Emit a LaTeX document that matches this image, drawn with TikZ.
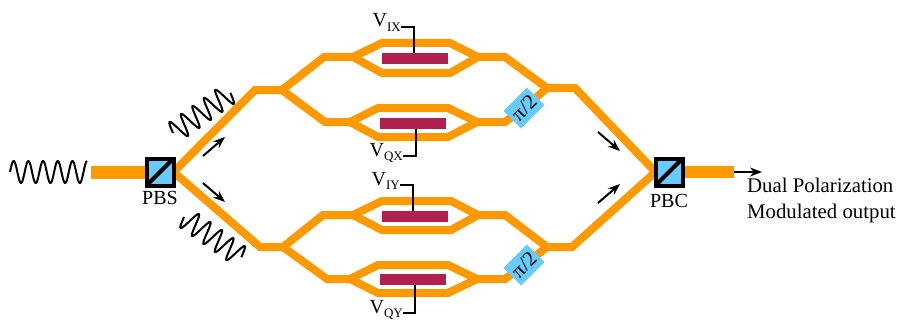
\documentclass[tikz,border=0pt]{standalone}
\usepackage{fontspec}
\setmainfont{Liberation Serif}
\usetikzlibrary{arrows.meta}
\usetikzlibrary{backgrounds}
\definecolor{morange}{rgb}{1.0, 0.6, 0.0}
\definecolor{mblue}{rgb}{0.4, 0.8, 1.0}
\definecolor{mred}{rgb}{0.69, 0.13, 0.31}
\tikzset{guide/.style = {draw=morange, line width=8pt}}
\tikzset{cube/.style = {draw, fill=mblue, line width=4pt, minimum size=27pt, inner sep=0pt, outer sep=0pt}}
\tikzset{diagonal/.style = {line width=4pt}}
\tikzset{electrode/.style = {fill=mred, minimum width=66pt, minimum height=11pt, inner sep=0pt, outer sep=0pt}}
\tikzset{shifter/.style = {fill=mblue, rotate=45, minimum width=33pt, minimum height=25pt, inner sep=0pt, font=\fontsize{21}{21}\selectfont}}
\tikzset{lead/.style = {line width=2.5pt}}
\tikzset{wave/.style = {line width=2pt, line join=round}}
\tikzset{flow/.style = {line width=2pt, -{Stealth[length=12pt, width=9pt]}}}
\tikzset{txt/.style = {inner sep=0pt, font=\fontsize{20}{26}\selectfont}}
\newcommand{\lowsub}[1]{\raisebox{-4.5pt}{\fontsize{13}{13}\selectfont #1}}
\begin{document}
\begin{tikzpicture}[x=1pt, y=-1pt]
    \useasboundingbox (0, 0) rectangle (897, 321);

    \node (pbs) [cube] at (160, 172) {};
    \node (pbc) [cube] at (669, 172) {};
    \draw [diagonal] (pbs.south west) -- (pbs.north east);
    \draw [diagonal] (pbc.south west) -- (pbc.north east);
    \node (pbslabel) [txt] at (160, 198) {PBS};
    \node (pbclabel) [txt] at (669, 201) {PBC};

    \coordinate (in) at (91, 172);
    \coordinate (out) at (734, 172);
    \coordinate (outtip) at (762, 172);
    \coordinate (splitx) at (282, 90);
    \coordinate (splity) at (283, 247);
    \coordinate (mergex) at (547, 88);
    \coordinate (mergey) at (547, 247);

    \node (elix) [electrode] at (415, 58.5) {};
    \node (elqx) [electrode] at (412.5, 123) {};
    \node (eliy) [electrode] at (415, 216.5) {};
    \node (elqy) [electrode] at (412.5, 279.5) {};

    \node (shiftx) [shifter] at (524, 108) {π/2};
    \node (shifty) [shifter] at (524, 265) {π/2};

    \begin{scope}[on background layer]
      \draw [guide, line width=13pt] (in) -- (pbs.west);
      \draw [guide, line width=12pt] (pbc.east) -- (out);

      \draw [guide] (pbs.east) -- (255, 90) -- (splitx);
      \draw [guide] (pbs.east) -- (260, 247) -- (splity);
      \draw [guide] (mergex) -- (575, 88) -- (pbc.west);
      \draw [guide] (mergey) -- (572, 247) -- (pbc.west);

      \draw [guide] (splitx) -- (324, 57) -- (353, 57) -- (382, 43) -- (450, 43) -- (478, 57) -- (505, 57) -- (mergex);
      \draw [guide] (353, 57) -- (382, 73) -- (450, 73) -- (478, 57);
      \draw [guide] (splitx) -- (325, 122) -- (350, 122) -- (378, 108) -- (448, 108) -- (477, 122) -- (505, 122) -- (shiftx.center) -- (mergex);
      \draw [guide] (350, 122) -- (378, 137) -- (448, 137) -- (477, 122);

      \draw [guide] (splity) -- (323, 215) -- (353, 215) -- (382, 201) -- (451, 201) -- (478, 215) -- (505, 215) -- (mergey);
      \draw [guide] (353, 215) -- (382, 230) -- (451, 230) -- (478, 215);
      \draw [guide] (splity) -- (327, 279) -- (350, 279) -- (378, 265) -- (448, 265) -- (477, 279) -- (505, 279) -- (shifty.center) -- (mergey);
      \draw [guide] (350, 279) -- (378, 293) -- (448, 293) -- (477, 279);
    \end{scope}

    \node (vix) [txt, anchor=base east] at (401, 27) {V\lowsub{IX}};
    \node (vqx) [txt, anchor=base east] at (403, 156) {V\lowsub{QX}};
    \node (viy) [txt, anchor=base east] at (400, 185) {V\lowsub{IY}};
    \node (vqy) [txt, anchor=base east] at (403, 313) {V\lowsub{QY}};
    \draw [lead] ([xshift=-1pt]elix.north) |- (vix.base east);
    \draw [lead] ([xshift=3.5pt]elqx.south) |- (vqx.base east);
    \draw [lead] ([xshift=-2pt]eliy.north) |- (viy.base east);
    \draw [lead] ([xshift=2.5pt]elqy.south) |- (vqy.base east);

    \draw [wave, shift={(10, 172)}] plot [domain=0:77, samples=130, smooth] (\x, {-11*sin(\x/14.7*360)});
    \draw [wave, shift={(173, 133)}, rotate=35] plot [domain=0:70, samples=130, smooth] (\x, {-11*sin(\x/14*360)});
    \draw [wave, shift={(184, 217)}, rotate=-35] plot [domain=0:70, samples=130, smooth] (\x, {11*sin(\x/14*360)});

    \draw [flow] (203, 156) -- (225, 137);
    \draw [flow] (203, 183) -- (225, 202);
    \draw [flow] (598, 132) -- (620, 151);
    \draw [flow] (598, 203) -- (620, 184);
    \draw [flow] (out) -- (outtip);

    \node (outlabel) [txt, anchor=west, align=left, font=\fontsize{20.8}{26}\selectfont] at (747, 200) {Dual Polarization\\Modulated output};
\end{tikzpicture}
\end{document}
